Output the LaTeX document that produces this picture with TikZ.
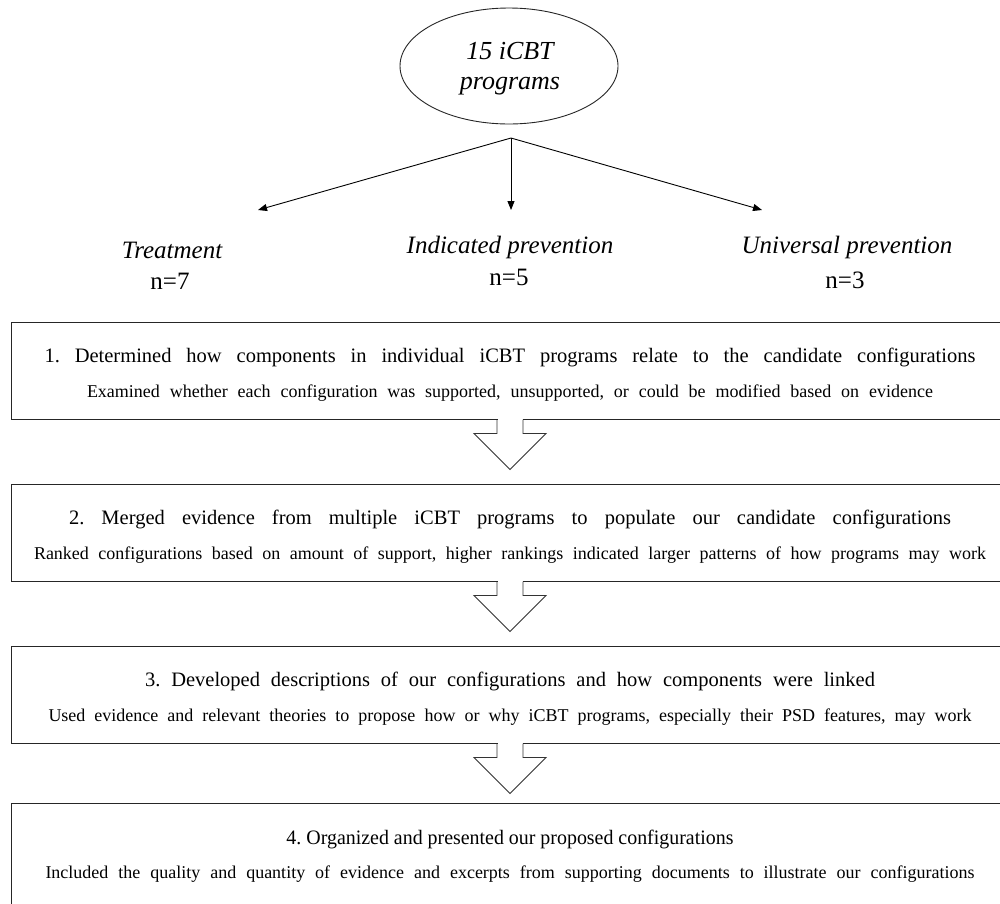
\documentclass[tikz,border=0pt]{standalone}
\usepackage{fontspec}
\setmainfont{Liberation Serif}
\usetikzlibrary{shapes.geometric,arrows.meta}
\frenchspacing
\newsavebox\fitbox
\newcommand\fitline[2]{\sbox\fitbox{#2}\ifdim\wd\fitbox>#1\relax\resizebox{#1}{\height}{\usebox\fitbox}\else\makebox[#1][s]{#2}\fi}
\tikzset{
  boxnode/.style={draw=black!85, line width=1pt, minimum width=998pt, inner sep=0pt},
  headline/.style={font=\fontsize{20.5}{24}\selectfont\frenchspacing, anchor=base, inner sep=0pt},
  subline/.style={font=\fontsize{18}{22}\selectfont\frenchspacing, anchor=base, inner sep=0pt},
  grouplab/.style={font=\fontsize{25}{28}\selectfont\itshape, anchor=base, inner sep=0pt},
  groupnum/.style={font=\fontsize{25}{28}\selectfont, anchor=base, inner sep=0pt},
  arr/.style={line width=0.9pt, -{Triangle[length=9pt,width=7pt]}},
  blockarr/.style={draw=black!80, line width=0.9pt, line join=miter}
}
\newcommand\blockarrow[1]{%
  \fill[white] ([xshift=-12.5pt,yshift=1pt]#1.south) rectangle ([xshift=12.5pt,yshift=-1.2pt]#1.south);
  \draw[blockarr] ([xshift=-13pt]#1.south) -- ++(0,14) -- ++(-23,0) -- ++(36,36) -- ++(36,-36) -- ++(-23,0) -- ++(0,-14);}
\begin{document}
\begin{tikzpicture}[x=1pt,y=-1pt]
\useasboundingbox (0,0) rectangle (1000,903);
\fill[white] (0,0) rectangle (1000,903);

% top ellipse
\node[ellipse, draw=black!85, line width=0.9pt, minimum width=218pt, minimum height=116pt, inner sep=0pt] (e) at (509,66) {};
\node[font=\fontsize{26}{30}\selectfont\itshape, align=center, inner sep=0pt] (et) at (510,69) {15 iCBT\\programs};

\coordinate (j) at (511,138);
\coordinate (tl) at (258,210);
\coordinate (tm) at (511,210);
\coordinate (tr) at (762,210);
\draw[arr] (j) -- (tl);
\draw[arr] (j) -- (tm);
\draw[arr] (j) -- (tr);

\node[grouplab] (g1) at (172,258) {Treatment};
\node[groupnum] (n1) at (170,289) {n=7};
\node[grouplab] (g2) at (510,253) {Indicated prevention};
\node[groupnum] (n2) at (509,285) {n=5};
\node[grouplab] (g3) at (847,253) {Universal prevention};
\node[groupnum] (n3) at (845,288) {n=3};

% boxes
\node[boxnode, minimum height=97pt] (b1) at (510,370.5) {};
\node[boxnode, minimum height=97pt] (b2) at (510,532.5) {};
\node[boxnode, minimum height=97pt] (b3) at (510,694.5) {};
\node[boxnode, minimum height=103pt] (b4) at (510,854.5) {};

\node[headline] (t1a) at (510,362) {\fitline{931pt}{1. Determined how components in individual iCBT programs relate to the candidate configurations}};
\node[subline] (t1b) at (510,397) {\fitline{846pt}{Examined whether each configuration was supported, unsupported, or could be modified based on evidence}};

\node[headline] (t2a) at (510,524) {\fitline{882pt}{2. Merged evidence from multiple iCBT programs to populate our candidate configurations}};
\node[subline] (t2b) at (510,559) {\fitline{952pt}{Ranked configurations based on amount of support, higher rankings indicated larger patterns of how programs may work}};

\node[headline] (t3a) at (510,686) {\fitline{730pt}{3. Developed descriptions of our configurations and how components were linked}};
\node[subline] (t3b) at (510,721) {\fitline{923pt}{Used evidence and relevant theories to propose how or why iCBT programs, especially their PSD features, may work}};

\node[headline] (t4a) at (510,844) {\fitline{447pt}{4. Organized and presented our proposed configurations}};
\node[subline] (t4b) at (510,878) {\fitline{929pt}{Included the quality and quantity of evidence and excerpts from supporting documents to illustrate our configurations}};

\blockarrow{b1}
\blockarrow{b2}
\blockarrow{b3}
\end{tikzpicture}
\end{document}
